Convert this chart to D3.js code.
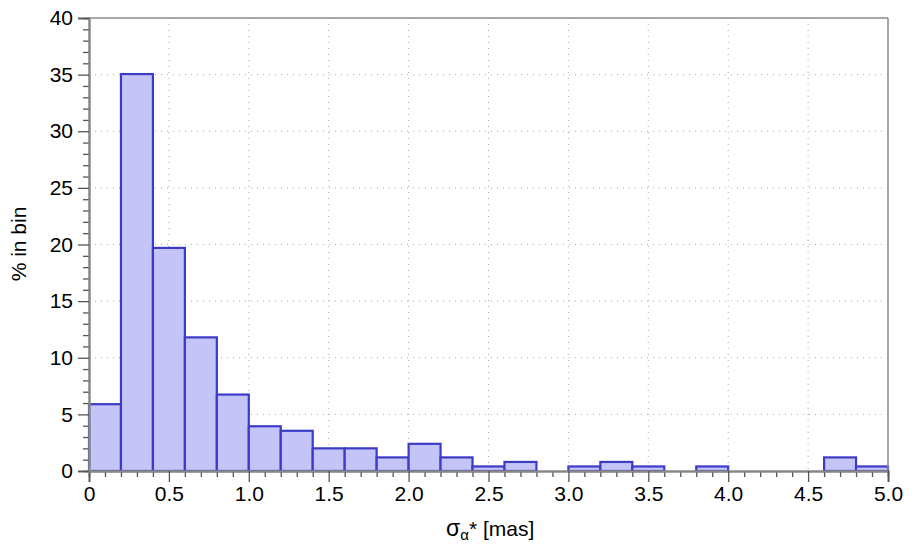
<!DOCTYPE html>
<html><head><meta charset="utf-8">
<script src="https://cdn.jsdelivr.net/npm/d3@7"></script>
<style>body{margin:0;background:#fff}svg{display:block}text{font-family:"Liberation Sans",Arial,sans-serif}</style>
</head><body>
<script>
const binStarts = [0,0.2,0.4,0.6,0.8,1.0,1.2,1.4,1.6,1.8,2.0,2.2,2.4,2.6,2.8,3.0,3.2,3.4,3.6,3.8,4.0,4.2,4.4,4.6,4.8];
const binWidth = 0.2;
const percents = [5.9,35.05,19.7,11.8,6.75,3.95,3.55,2.0,2.0,1.2,2.4,1.2,0.4,0.8,0,0.4,0.8,0.4,0,0.4,0,0,0,1.2,0.4];
const xTicks = [0,0.5,1.0,1.5,2.0,2.5,3.0,3.5,4.0,4.5,5.0];
const xTickLabels = ["0","0.5","1.0","1.5","2.0","2.5","3.0","3.5","4.0","4.5","5.0"];
const yTicks = [0,5,10,15,20,25,30,35,40];
const xTitle = "σ";
const yTitle = "% in bin";

const W=918,H=549, L=89,R=888,T=18,B=471;
const svg=d3.select("body").append("svg").attr("width",W).attr("height",H);
const x=d3.scaleLinear().domain([0,5]).range([L,R]);
const y=d3.scaleLinear().domain([0,40]).range([B,T]);
const axisCol="#888";
const FS=21;

// grid
const g=svg.append("g");
g.selectAll("line.gx").data(xTicks.slice(1,-1)).join("line")
 .attr("x1",d=>x(d)).attr("x2",d=>x(d)).attr("y1",T).attr("y2",B)
 .attr("stroke","#aaa").attr("stroke-width",1).attr("stroke-dasharray","1,5");
g.selectAll("line.gy").data(yTicks.slice(1,-1)).join("line")
 .attr("x1",L).attr("x2",R).attr("y1",d=>y(d)).attr("y2",d=>y(d))
 .attr("stroke","#aaa").attr("stroke-width",1).attr("stroke-dasharray","1,5");

// bars
svg.append("g").selectAll("rect").data(binStarts.map((s,i)=>({s,v:percents[i]})).filter(d=>d.v>0)).join("rect")
 .attr("x",d=>x(d.s)).attr("width",d=>x(d.s+binWidth)-x(d.s))
 .attr("y",d=>y(d.v)).attr("height",d=>y(0)-y(d.v))
 .attr("fill","#c4c4f8").attr("stroke","#3b3bc6").attr("stroke-width",2.2);

// frame top/right
svg.append("line").attr("x1",L).attr("x2",R).attr("y1",T).attr("y2",T).attr("stroke",axisCol).attr("stroke-width",1.5);
svg.append("line").attr("x1",R).attr("x2",R).attr("y1",T).attr("y2",B).attr("stroke",axisCol).attr("stroke-width",1.5);

// x axis
const xMinor=d3.range(0,51).map(i=>i/10).filter(v=>Math.abs(v*2-Math.round(v*2))>1e-6);
const xa=svg.append("g").attr("transform",`translate(0,${B})`);
xa.call(d3.axisBottom(x).tickValues(xMinor).tickSize(6).tickFormat(""));
xa.append("g").call(d3.axisBottom(x).tickValues(xTicks).tickSize(11).tickPadding(4).tickFormat((d,i)=>xTickLabels[i]));
xa.selectAll(".domain").attr("stroke",axisCol).attr("stroke-width",2);
xa.selectAll(".tick line").attr("stroke","#555").attr("stroke-width",1.3);
xa.selectAll(".tick text").attr("fill","#000").attr("font-size",FS).attr("font-family","'Liberation Sans',Arial,sans-serif");

// y axis
const yMinor=d3.range(0,41).filter(v=>v%5!==0);
const ya=svg.append("g").attr("transform",`translate(${L},0)`);
ya.call(d3.axisLeft(y).tickValues(yMinor).tickSize(6).tickFormat(""));
ya.append("g").call(d3.axisLeft(y).tickValues(yTicks).tickSize(11).tickPadding(5).tickFormat(d3.format("d")));
ya.selectAll(".domain").attr("stroke",axisCol).attr("stroke-width",2);
ya.selectAll(".tick line").attr("stroke","#555").attr("stroke-width",1.3);
ya.selectAll(".tick text").attr("fill","#000").attr("font-size",FS).attr("font-family","'Liberation Sans',Arial,sans-serif");

// titles
const xt=svg.append("text").attr("x",446).attr("y",536).attr("text-anchor","start").attr("font-size",FS).attr("fill","#000");
xt.append("tspan").attr("font-size",23).text(xTitle);
xt.append("tspan").attr("dy",4).attr("font-size",15).text("α");
xt.append("tspan").attr("dy",-4).text("* [mas]");
svg.append("text").attr("transform",`translate(26,${244}) rotate(-90)`).attr("text-anchor","middle").attr("font-size",FS).attr("fill","#000").text(yTitle);
</script>
</body></html>
